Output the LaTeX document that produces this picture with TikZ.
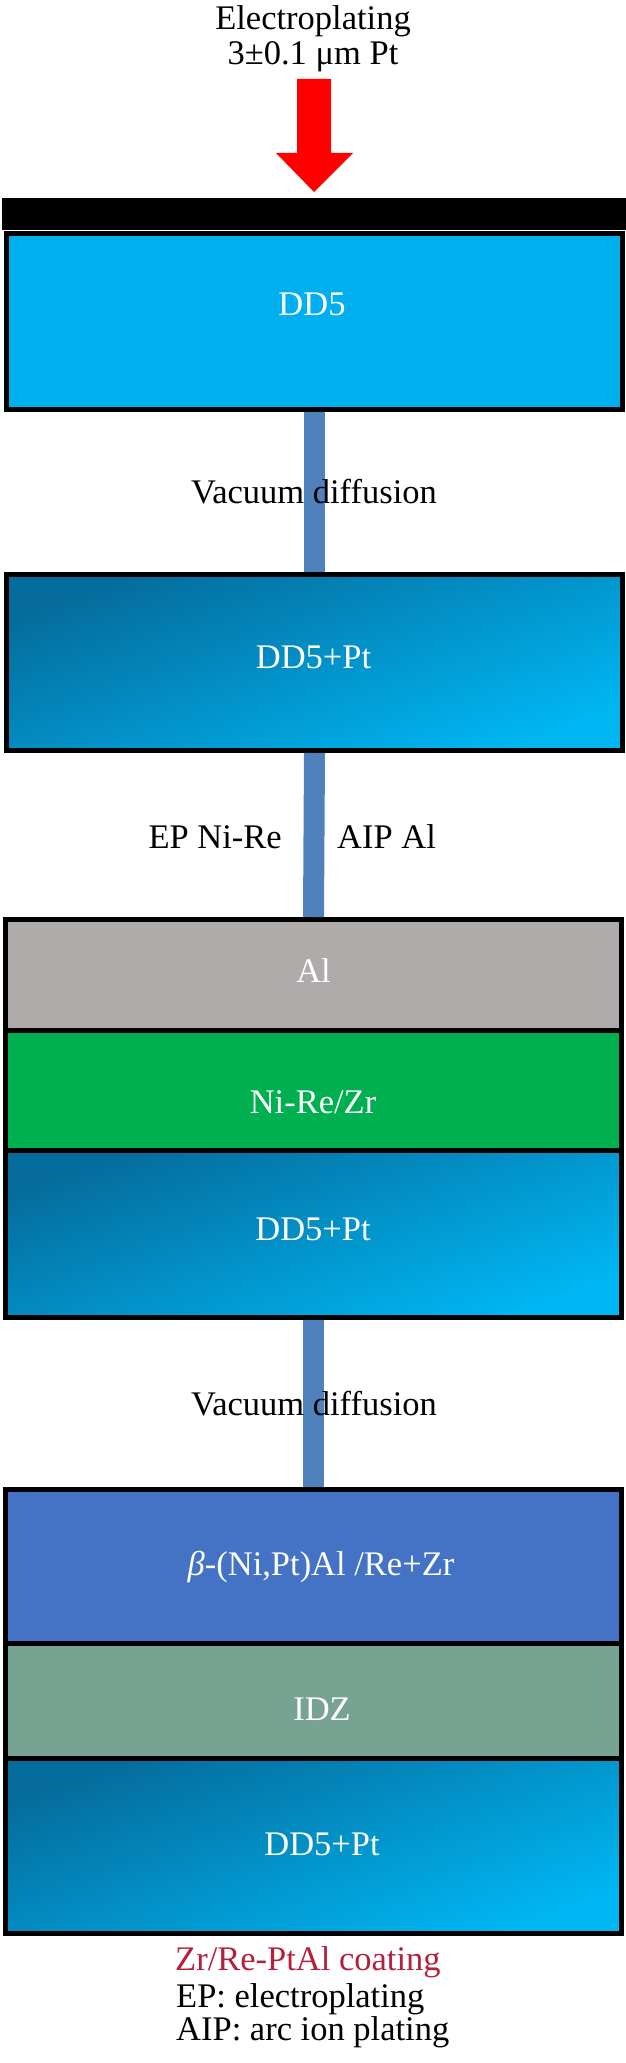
\documentclass[tikz,border=0pt]{standalone}
\usepackage{fontspec}
\setmainfont{Liberation Serif}
\definecolor{dd5blue}{HTML}{00B0EE}
\definecolor{ptdark}{HTML}{056C9C}
\definecolor{ptlight}{HTML}{00B6F3}
\definecolor{algray}{HTML}{AFABAB}
\definecolor{nigreen}{HTML}{00AF50}
\definecolor{betablue}{HTML}{4472C4}
\definecolor{idzgreen}{HTML}{76A392}
\definecolor{connblue}{HTML}{4F81BD}
\definecolor{crimsontxt}{HTML}{B5213D}
\begin{document}
\begin{tikzpicture}[x=1pt,y=-1pt,
  box/.style={draw=black,line width=5pt,minimum width=616pt,inner sep=0pt},
  ptbox/.style={box,shading=axis,top color=ptdark,bottom color=ptlight,shading angle=20},
  conn/.style={draw=connblue,line width=21pt},
  txt/.style={font=\fontsize{34.5}{40}\selectfont,inner sep=0pt,anchor=base,text=black},
  wtxt/.style={txt,text=white},
  ltxt/.style={txt,anchor=base west}]
\useasboundingbox (0,0) rectangle (626,2063);
% top label and arrow
\node[txt] (t1) at (313,30) {Electroplating};
\node[txt] (t2) at (313,65) {3±0.1 μm Pt};
\fill[red] (297,79) -- (331,79) -- (331,153) -- (353,153) -- (314,192) -- (276,153) -- (297,153) -- cycle;
\node[fill=black,minimum width=624pt,minimum height=32pt,inner sep=0pt] (bar) at (314,214) {};
% boxes
\node[box,fill=dd5blue,minimum height=176pt] (dd5) at (314.5,321.5) {};
\node[ptbox,minimum height=176pt] (pt1) at (314.5,662.5) {};
\node[box,fill=algray,minimum height=110.5pt] (al) at (313.5,974.75) {};
\node[box,fill=nigreen,minimum height=120pt] (nire) at (313.5,1090) {};
\node[ptbox,minimum height=167.5pt] (pt2) at (313.5,1233.75) {};
\node[box,fill=betablue,minimum height=153.5pt] (beta) at (313.5,1566.25) {};
\node[box,fill=idzgreen,minimum height=115pt] (idz) at (313.5,1700.5) {};
\node[ptbox,minimum height=175.5pt] (pt3) at (313.5,1845.75) {};
% connectors
\draw[conn] (dd5.south) -- (pt1.north);
\draw[conn] (pt1.south) -- (al.north);
\draw[conn] (pt2.south) -- (beta.north);
% texts in boxes
\node[wtxt] (l1) at (312,315) {DD5};
\node[wtxt] (l2) at (313.5,668) {DD5+Pt};
\node[wtxt] (l3) at (313.5,982) {Al};
\node[wtxt] (l4) at (313,1113) {Ni-Re/Zr};
\node[wtxt] (l5) at (313,1240) {DD5+Pt};
\node[wtxt] (l6) at (321,1575) {{\itshape β}-(Ni,Pt)Al /Re+Zr};
\node[wtxt] (l7) at (322,1720) {IDZ};
\node[wtxt] (l8) at (322,1855) {DD5+Pt};
% process labels
\node[txt] (p1) at (314,503) {Vacuum diffusion};
\node[txt,anchor=base east] (p2) at (282,848) {EP Ni-Re};
\node[ltxt] (p3) at (337,848) {AIP Al};
\node[txt] (p4) at (314,1415) {Vacuum diffusion};
% legend
\node[ltxt,text=crimsontxt] (g1) at (175,1970) {Zr/Re-PtAl coating};
\node[ltxt] (g2) at (176,2007) {EP: electroplating};
\node[ltxt] (g3) at (176,2040) {AIP: arc ion plating};
\end{tikzpicture}
\end{document}
